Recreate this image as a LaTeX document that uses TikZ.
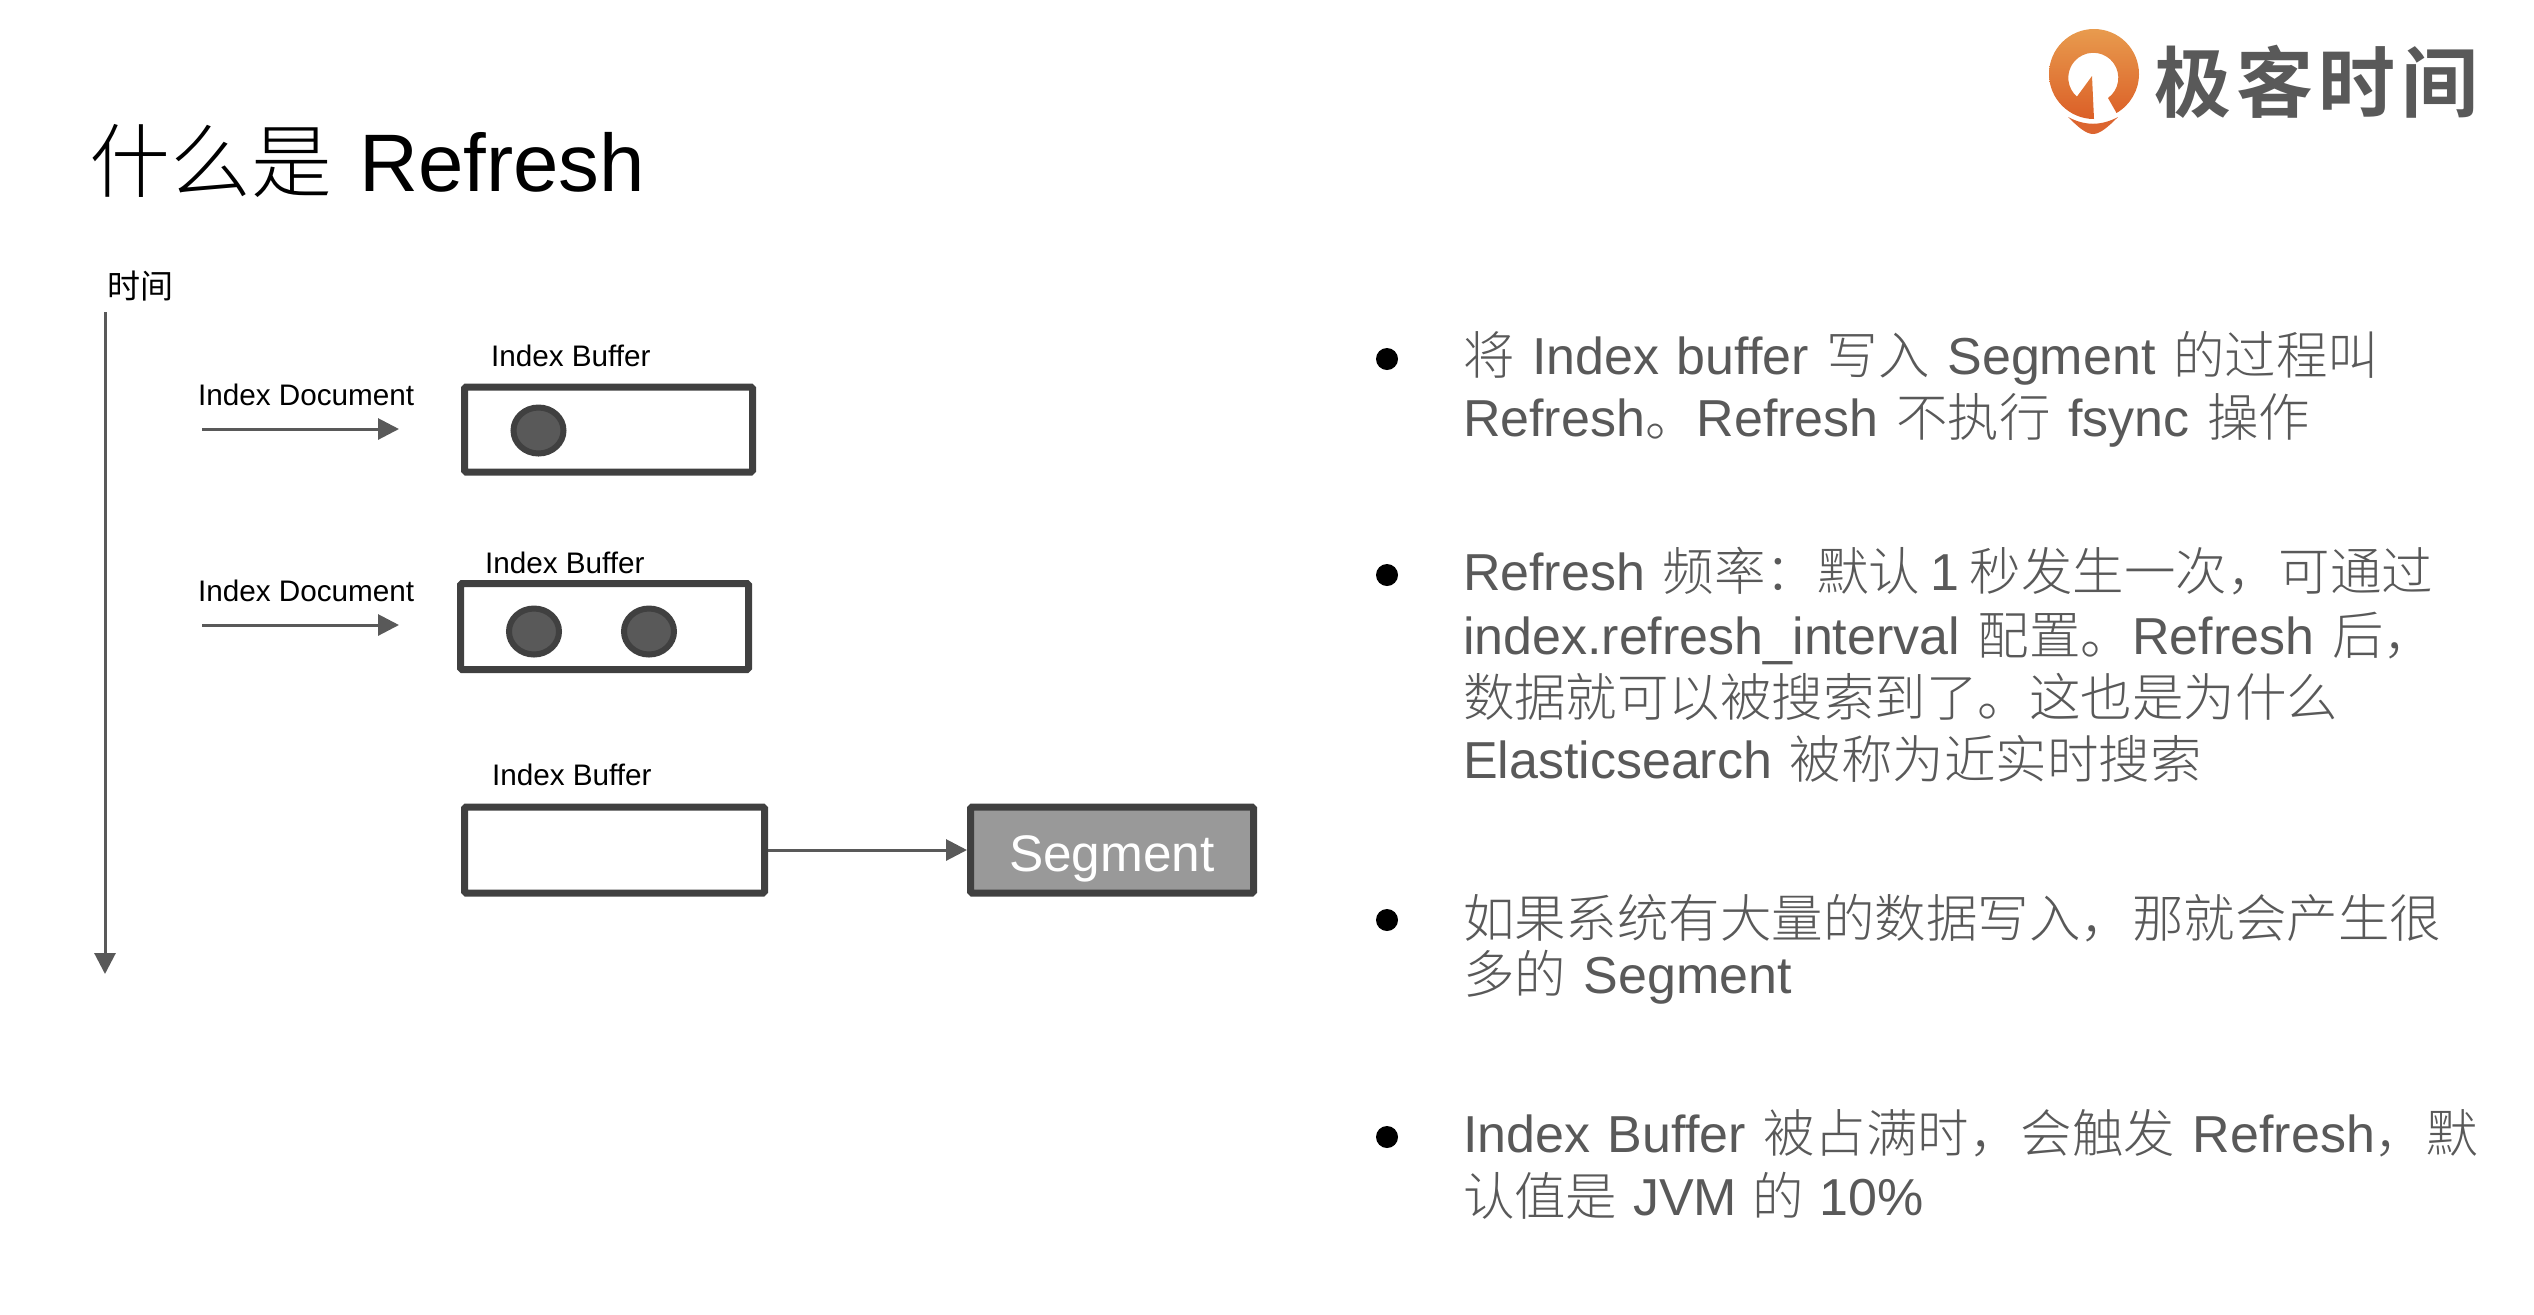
\documentclass[tikz,border=0pt]{standalone}
\usepackage{fontspec}
\usetikzlibrary{arrows.meta,shapes.geometric}
\setmainfont{Liberation Sans}
\newfontfamily\cjk[Scale=0.99]{Noto Sans CJK SC Light}
\newfontfamily\cjkreg{Noto Sans CJK SC}
\newfontfamily\cjklogo[LetterSpace=7]{Noto Sans CJK SC Bold}
\newcommand{\cn}[1]{{\cjk #1}}
\definecolor{inkgray}{HTML}{595959}
\definecolor{edgegray}{HTML}{404040}
\definecolor{seggray}{HTML}{999999}
\definecolor{logotop}{HTML}{E89B4E}
\definecolor{logobot}{HTML}{DB5F27}

\begin{document}
\begin{tikzpicture}[x=0.5pt,y=-0.5pt,
   tag/.style    ={anchor=base west,inner sep=0pt,outer sep=0pt},
   small/.style  ={tag,font=\fontsize{14.85}{15}\selectfont},
   body/.style   ={tag,text=inkgray,font=\fontsize{26}{26}\selectfont\spaceskip 0.34em\relax},
   box/.style    ={draw=edgegray,line width=3.5pt,rounded corners=0.8pt,inner sep=0pt},
   doc/.style    ={ellipse,draw=edgegray,fill=inkgray,line width=3pt,inner sep=0pt,
                   minimum width=25pt,minimum height=23pt},
   dot/.style    ={circle,fill=black,inner sep=0pt,minimum size=11pt},
   flow/.style   ={draw=inkgray,line width=1.5pt,
                   -{Triangle[length=10.5pt,width=10.5pt,inkgray]}}]
   \path[use as bounding box] (0,0) rectangle (2534,1314);

   % logo
   \shade[top color=logotop,bottom color=logobot] (2094,119)
      arc[start angle=90,end angle=420,radius=45] -- (2108,98)
      arc[start angle=54,end angle=-229,radius=25] -- (2092,76) -- cycle;
   \fill[logobot!96!white] (2068,117) .. controls (2085,126) and (2101,126) .. (2118,117)
      .. controls (2108,127) and (2100,134) .. (2093,134)
      .. controls (2086,134) and (2078,127) .. (2068,117) -- cycle;
   \node[tag,text=inkgray] (logotext) at (2154,111)
      {\fontsize{38.5}{38.5}\cjklogo 极客时间};

   % title
   \node[tag,font=\fontsize{40.8}{41}\selectfont\spaceskip 0.33em\relax] (title) at (90,191)
      {\cn{什么是} Refresh};

   % time axis
   \node[tag,font=\fontsize{16.5}{17}\selectfont] (timelabel) at (107,298) {\cjkreg 时间};
   \coordinate (axistop) at (105,312);
   \coordinate (axisend) at (105,974);
   \draw[flow] (axistop) -- (axisend);

   % first row
   \node[small] (docA) at (198,405) {Index Document};
   \coordinate (docAfrom) at (202,429);
   \coordinate (docAto)   at (399,429);
   \draw[flow] (docAfrom) -- (docAto);
   \node[small] (bufA) at (491,366) {Index Buffer};
   \node[box,minimum width=144pt,minimum height=42.5pt] (boxA) at (608.5,429.5) {};
   \node[doc] (itemA) at (538.5,430.5) {};

   % second row
   \node[small] (docB) at (198,601) {Index Document};
   \coordinate (docBfrom) at (202,625);
   \coordinate (docBto)   at (399,625);
   \draw[flow] (docBfrom) -- (docBto);
   \node[small] (bufB) at (485,573) {Index Buffer};
   \node[box,minimum width=144pt,minimum height=43pt] (boxB) at (604.5,626.5) {};
   \node[doc] (itemB) at (534,631.5) {};
   \node[doc] (itemC) at (649,631.5) {};

   % third row
   \node[small] (bufC) at (492,785) {Index Buffer};
   \node[box,minimum width=150pt,minimum height=43pt] (boxC) at (614.5,850) {};
   \node[box,fill=seggray,minimum width=141.5pt,minimum height=43pt] (segment) at (1112,850) {};
   \node[tag,text=white,font=\fontsize{25.7}{26}\selectfont] (segtext) at (1009,871) {Segment};
   \draw[flow] (boxC.east) -- (segment.west);

   % bullet list
   \node[dot] (dotA) at (1387,359) {};
   \node[body] (lineA) at (1463,374) {\cn{将} Index buffer \cn{写入} Segment \cn{的过程叫}};
   \node[body] (lineB) at (1463,436) {Refresh\cn{。}Refresh \cn{不执行} fsync \cn{操作}};
   \node[dot] (dotB) at (1387,575) {};
   \node[body] (lineC) at (1463,590) {Refresh \cn{频率：默认}\hspace{0.2em}1\hspace{0.2em}\cn{秒发生一次，可通过}};
   \node[body] (lineD) at (1463,654) {index.refresh\_interval \cn{配置。}Refresh \cn{后，}};
   \node[body] (lineE) at (1463,716) {\cn{数据就可以被搜索到了。这也是为什么}};
   \node[body] (lineF) at (1463,778) {Elasticsearch \cn{被称为近实时搜索}};
   \node[dot] (dotC) at (1387,920) {};
   \node[body] (lineG) at (1463,937) {\cn{如果系统有大量的数据写入，那就会产生很}};
   \node[body] (lineH) at (1463,993) {\cn{多的} Segment};
   \node[dot] (dotD) at (1387,1137) {};
   \node[body] (lineI) at (1463,1152) {Index Buffer \cn{被占满时，会触发} Refresh\cn{，默}};
   \node[body] (lineJ) at (1463,1215) {\cn{认值是}\hspace{0.3em}JVM\hspace{0.3em}\cn{的}\hspace{0.3em}10\%};
\end{tikzpicture}
\end{document}
